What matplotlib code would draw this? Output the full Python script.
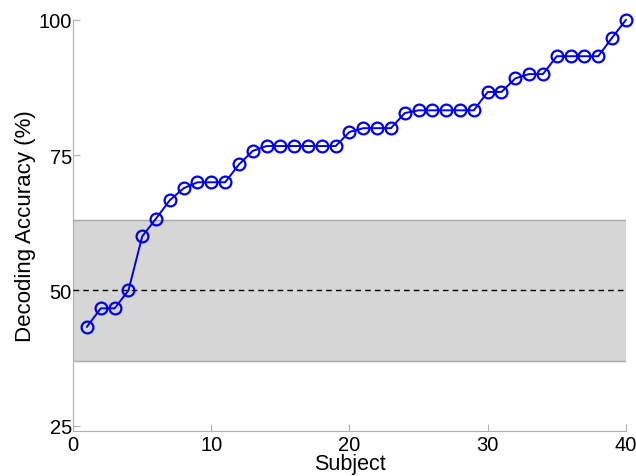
import matplotlib
matplotlib.use("Agg")
import matplotlib.pyplot as plt

subjects = list(range(1, 41))
accuracy = [43.3, 46.7, 46.7, 50.0, 60.0, 63.3, 66.7, 68.9, 70.0, 70.0,
            70.0, 73.3, 75.8, 76.7, 76.7, 76.7, 76.7, 76.7, 76.7, 79.3,
            80.0, 80.0, 80.0, 82.8, 83.3, 83.3, 83.3, 83.3, 83.3, 86.7,
            86.7, 89.2, 90.0, 90.0, 93.3, 93.3, 93.3, 93.3, 96.7, 100.0]
chance = 50.0
band_low, band_high = 37.0, 63.0

plt.rcParams["font.family"] = ["Liberation Sans", "DejaVu Sans"]

fig = plt.figure(figsize=(6.36, 4.77), dpi=100)
ax = fig.add_axes([0.115, 0.094, 0.869, 0.862])

ax.fill_between([0, 40], band_low, band_high, color="#d6d6d6", lw=0, zorder=1)
ax.plot([0, 40], [band_low, band_low], color="#a8a8a8", lw=1, zorder=2)
ax.plot([0, 40], [band_high, band_high], color="#a8a8a8", lw=1, zorder=2)
ax.plot([0, 40], [chance, chance], color="black", lw=1, ls=(0, (4, 3)), zorder=3)

ax.plot(subjects, accuracy, color="#0000e6", lw=1.4, marker="o", ms=8.5,
        mfc="none", mew=1.6, zorder=4, clip_on=False)

ax.set_xlim(0, 40)
ax.set_ylim(24, 100)
ax.set_xticks([0, 10, 20, 30, 40])
ax.set_yticks([25, 50, 75, 100])
for s in ("top", "right"):
    ax.spines[s].set_visible(False)
for s in ("left", "bottom"):
    ax.spines[s].set_color("#b0b0b0")
ax.tick_params(direction="in", color="#b0b0b0", labelsize=14.5, length=5,
               pad=1)
ax.tick_params(axis="x", pad=3)
ax.set_xlabel("Subject", fontsize=15.5, labelpad=-1)
ax.set_ylabel("Decoding Accuracy (%)", fontsize=16, labelpad=2)

fig.savefig("out.png", dpi=100)
